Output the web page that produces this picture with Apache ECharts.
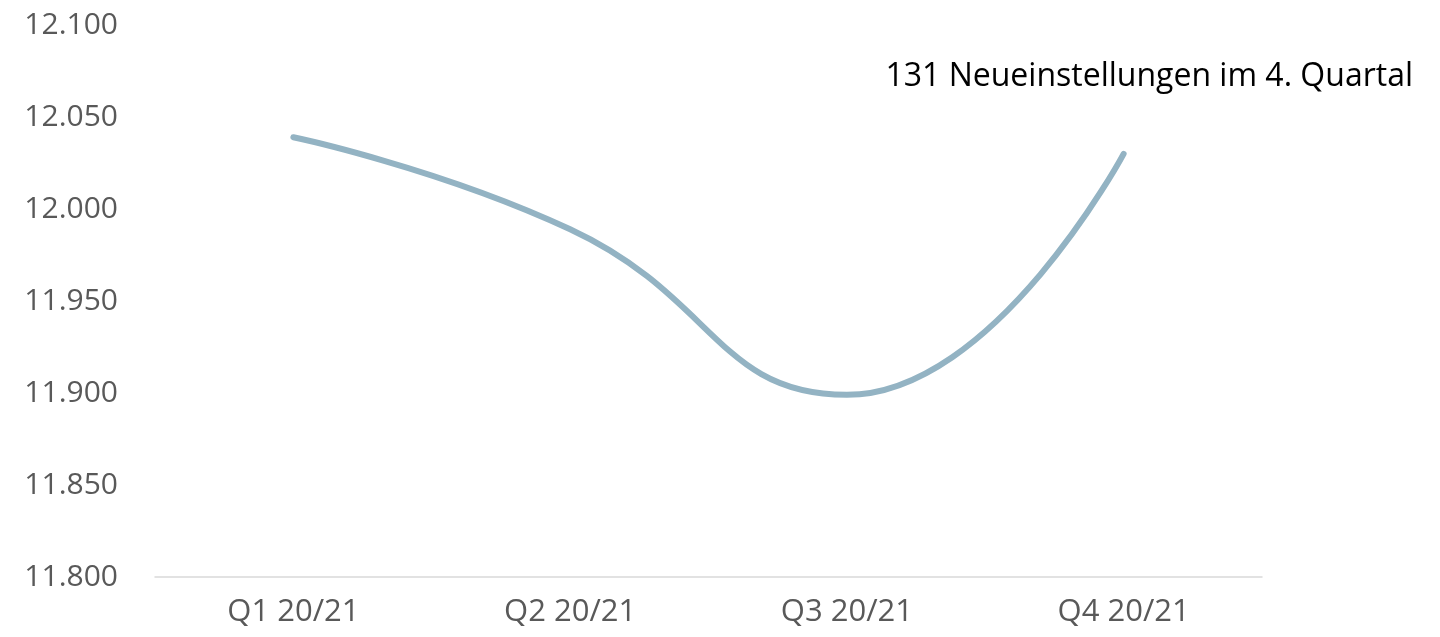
<!DOCTYPE html>
<html>
<head>
<meta charset="utf-8">
<script src="https://cdn.jsdelivr.net/npm/echarts@6/dist/echarts.min.js"></script>
<style>
  html, body { margin: 0; padding: 0; background: #fff; }
  #chart { width: 1440px; height: 637px; }
</style>
</head>
<body>
<div id="chart"></div>
<script>
// Mitarbeiter je Quartal
const quarters = ['Q1 20/21', 'Q2 20/21', 'Q3 20/21', 'Q4 20/21']
const headcount = [12039, 11989, 11899, 12030]
const note = '131 Neueinstellungen im 4. Quartal'

const yMin = 11800
const yMax = 12100
const yStep = 50

const font = '"Open Sans", "Liberation Sans", sans-serif'
const chart = echarts.init(document.getElementById('chart'))

// 12100 -> "12.100"
const deNum = v => String(v).replace(/(\d)(?=(\d{3})+$)/g, '$1.')

chart.setOption({
  animation: false,
  grid: { left: 155, right: 178, top: 25, bottom: 60 },
  xAxis: {
    type: 'category',
    data: quarters,
    boundaryGap: true,
    axisLine: { lineStyle: { color: '#d9d9d9', width: 1.5 } },
    axisTick: { show: false },
    axisLabel: { color: '#595959', fontSize: 31, fontFamily: font, margin: 20 },
  },
  yAxis: {
    type: 'value',
    min: yMin,
    max: yMax,
    interval: yStep,
    axisLine: { show: false },
    axisTick: { show: false },
    splitLine: { show: false },
    axisLabel: {
      color: '#595959',
      fontSize: 30,
      fontFamily: font,
      margin: 37,
      formatter: deNum,
    },
  },
  graphic: [{
    type: 'text',
    right: 27,
    top: 61,
    style: { text: note, fill: '#000', fontSize: 32, fontFamily: font },
  }],
  series: [{
    type: 'line',
    data: headcount,
    smooth: 0.5,
    showSymbol: false,
    lineStyle: { color: '#93b3c3', width: 6, cap: 'round' },
  }],
})
</script>
</body>
</html>
